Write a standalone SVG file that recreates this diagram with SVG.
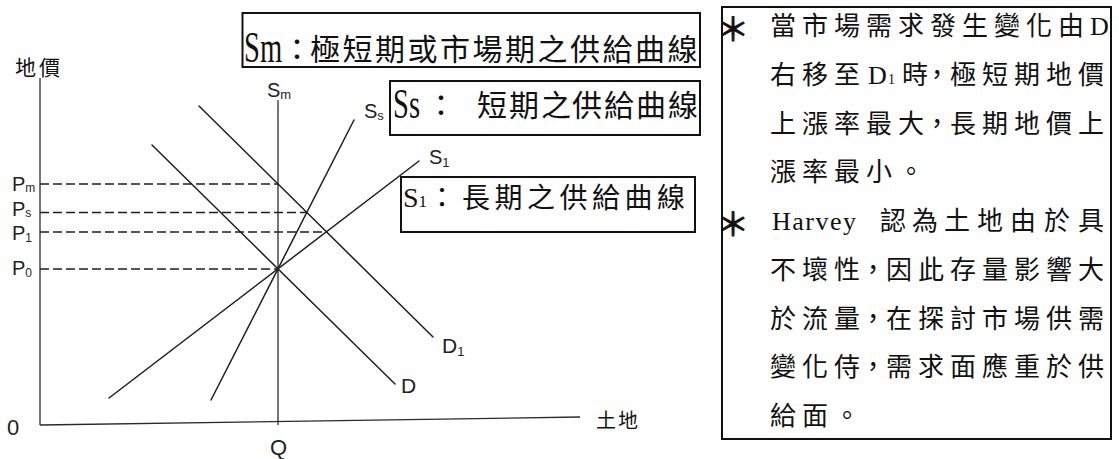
<svg xmlns="http://www.w3.org/2000/svg" width="1119" height="459" viewBox="0 0 1119 459">
<defs>
<style>
.ln{stroke:#1e1e1e;stroke-width:1.5;fill:none;stroke-linecap:round}
.ax{stroke:#2a2a2a;stroke-width:1.3;fill:none}
.dash{stroke:#1e1e1e;stroke-width:1.5;stroke-dasharray:9 4;fill:none}
.box{fill:#fff;stroke:#111;stroke-width:2}
.lbl{font-family:"Liberation Sans",Arial,sans-serif;fill:#222}
.cjk{font-family:"Noto Sans CJK TC","Noto Sans CJK SC",sans-serif;fill:#111}
.ser{font-family:"Liberation Serif","Noto Sans CJK TC",serif;fill:#111}
.note{font-size:26px}
.star{font-family:"Noto Sans CJK TC","Noto Sans CJK SC",sans-serif;font-size:32px;fill:#111;stroke:#111;stroke-width:0.9;text-anchor:middle}
</style>
</defs>
<rect width="1119" height="459" fill="#fff"/>

<g id="axes">
<line class="ax" x1="40" y1="78" x2="40" y2="425"/>
<line class="ax" x1="40" y1="425" x2="580" y2="417"/>
<text class="cjk" x="15" y="75" font-size="21" letter-spacing="3" fill="#333">地價</text>
<text class="cjk" x="596" y="428" font-size="20" letter-spacing="2" fill="#333">土地</text>
<text class="lbl" x="7" y="435" font-size="22">0</text>
<text class="lbl" x="270" y="455" font-size="22">Q</text>
</g>

<g id="connectors">
<line class="ax" x1="278" y1="100" x2="278" y2="425"/>
<line class="ln" x1="199" y1="106" x2="433" y2="337"/>
<line class="ln" x1="152" y1="145" x2="395" y2="384"/>
<line class="ln" x1="109" y1="398" x2="419" y2="161"/>
<line class="ln" x1="211" y1="400" x2="354" y2="120"/>
<line class="dash" x1="40" y1="184" x2="278" y2="184"/>
<line class="dash" x1="40" y1="212.4" x2="307" y2="212.4"/>
<line class="dash" x1="40" y1="232" x2="326" y2="232"/>
<line class="dash" x1="40" y1="269" x2="278" y2="269"/>
</g>

<g id="curve-labels">
<text class="lbl" x="267" y="97" font-size="20">S<tspan font-size="13" dy="2">m</tspan></text>
<text class="lbl" x="364" y="118" font-size="20">S<tspan font-size="13" dy="2">s</tspan></text>
<text class="lbl" x="429" y="164" font-size="20">S<tspan font-size="13" dy="3">1</tspan></text>
<text class="lbl" x="442" y="353" font-size="21">D<tspan font-size="13" dy="3">1</tspan></text>
<text class="lbl" x="401" y="393" font-size="21">D</text>
<text class="lbl" x="12" y="191" font-size="20">P<tspan font-size="12" dy="1">m</tspan></text>
<text class="lbl" x="12" y="216" font-size="20">P<tspan font-size="12" dy="1">s</tspan></text>
<text class="lbl" x="12" y="240" font-size="20">P<tspan font-size="12" dy="2">1</tspan></text>
<text class="lbl" x="12" y="275" font-size="20">P<tspan font-size="12" dy="2">0</tspan></text>
</g>

<g id="box-sm">
<rect class="box" x="242.5" y="13" width="457.5" height="54"/>
<text class="ser" transform="translate(244 62) scale(0.65 1)" font-size="44">Sm</text>
<text class="cjk" font-size="30" y="60" x="282 310 342.5 375 407.5 440 472.5 505 537.5 570 602.5 635 667.5">：極短期或市場期之供給曲線</text>
</g>

<g id="box-ss">
<rect class="box" x="390" y="81" width="310" height="54"/>
<text class="ser" transform="translate(393 118) scale(0.68 1)" font-size="42">Ss</text>
<text class="cjk" font-size="30" y="116" x="426 477 509 541 572 604 636 668">：短期之供給曲線</text>
</g>

<g id="box-sl">
<rect class="box" x="401" y="177" width="294" height="55"/>
<text class="ser" x="403" y="207" font-size="28">S<tspan font-size="17">1</tspan></text>
<text class="cjk" font-size="28" y="208" x="428 462 494.5 527 559.5 592 624.5 657">：長期之供給曲線</text>
</g>

<g id="note">
<rect class="box" x="722" y="7" width="389" height="432"/>
<text class="star" x="733" y="41">＊</text>
<text class="cjk note" y="35"><tspan x="770 802 834 866 898 930 962 994 1026 1058">當市場需求發生變化由</tspan><tspan class="ser" x="1090">D</tspan></text>
<text class="cjk note" y="83.75"><tspan x="770 802 834">右移至</tspan><tspan class="ser" x="868">D</tspan><tspan class="ser" x="888" font-size="14">1</tspan><tspan x="902 924 950 982 1014 1046 1078">時，極短期地價</tspan></text>
<text class="cjk note" y="132.5" x="770 802 834 866 898 924 950 982 1014 1046 1078">上漲率最大，長期地價上</text>
<text class="cjk note" y="181.25" x="770 802 834 866 898">漲率最小。</text>
<text class="star" x="733" y="236">＊</text>
<text class="cjk note" y="230"><tspan class="ser" x="772" letter-spacing="1.5">Harvey</tspan><tspan x="880 912 944 977 1010 1044 1078">認為土地由於具</tspan></text>
<text class="cjk note" y="278.75" x="770 802 834 860 886 918 950 982 1014 1046 1078">不壞性，因此存量影響大</text>
<text class="cjk note" y="327.5" x="770 802 834 860 886 918 950 982 1014 1046 1078">於流量，在探討市場供需</text>
<text class="cjk note" y="376.25" x="770 802 834 860 886 918 950 982 1014 1046 1078">變化侍，需求面應重於供</text>
<text class="cjk note" y="425" x="770 802 834">給面。</text>
</g>
</svg>
